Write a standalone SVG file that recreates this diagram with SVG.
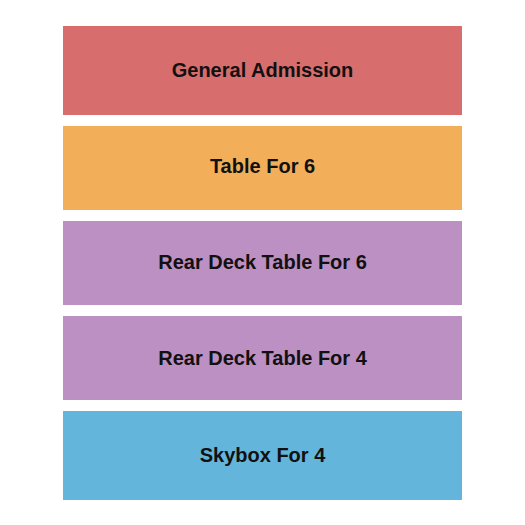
<svg xmlns="http://www.w3.org/2000/svg" width="525" height="525" viewBox="0 0 525 525">
<style>
.t{font-family:"Liberation Sans",Arial,sans-serif;font-weight:bold;font-size:20px;fill:#111;text-anchor:middle}
</style>
<rect width="525" height="525" fill="#fff"/>
<g id="general-admission"><rect x="63" y="26" width="399" height="89" fill="#D76D6D"/><text class="t" x="262.5" y="77">General Admission</text></g>
<g id="table-for-6"><rect x="63" y="126" width="399" height="84" fill="#F2AE58"/><text class="t" x="262.5" y="172.5">Table For 6</text></g>
<g id="rear-deck-6"><rect x="63" y="221" width="399" height="84" fill="#BC90C3"/><text class="t" x="262.5" y="269">Rear Deck Table For 6</text></g>
<g id="rear-deck-4"><rect x="63" y="316" width="399" height="84" fill="#BC90C3"/><text class="t" x="262.5" y="364.5">Rear Deck Table For 4</text></g>
<g id="skybox-4"><rect x="63" y="411" width="399" height="89" fill="#64B5DB"/><text class="t" x="262.5" y="462">Skybox For 4</text></g>
</svg>
